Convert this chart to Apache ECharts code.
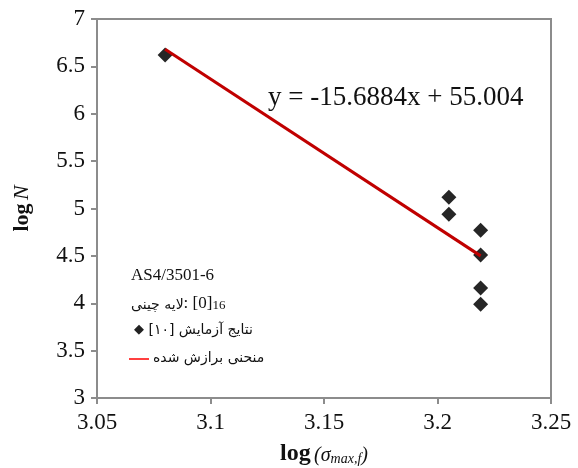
<!DOCTYPE html>
<html>
<head>
<meta charset="utf-8">
<script src="https://cdn.jsdelivr.net/npm/echarts@6/dist/echarts.min.js"></script>
<style>
  html, body { margin: 0; padding: 0; background: #fff; }
  #chart { width: 578px; height: 468px; }
</style>
</head>
<body>
<div id="chart"></div>
<script>
// test results (log of max stress vs log of cycles)
const logStress = [3.08, 3.205, 3.205, 3.219, 3.219, 3.219, 3.219];
const logLife = [6.62, 5.12, 4.94, 4.77, 4.51, 4.16, 3.99];
// fitted line ends
const fitX = [3.08, 3.219];
const fitY = [6.68, 4.50];
const xTicks = [3.05, 3.25, 0.05]; // min, max, step
const yTicks = [3, 7, 0.5];

const serif = "'Liberation Serif', 'DejaVu Serif', serif";
const persian = "'DejaVu Sans', sans-serif";
const axisGray = "#8c8c8c";

const chart = echarts.init(document.getElementById("chart"));

const option = {
  backgroundColor: "#fff",
  animation: false,
  grid: {
    left: 97, right: 27, top: 19, bottom: 70,
    outerBoundsMode: "none",
    show: true, borderColor: axisGray, borderWidth: 2
  },
  xAxis: {
    type: "value",
    min: xTicks[0], max: xTicks[1], interval: xTicks[2],
    axisLine: { lineStyle: { color: axisGray, width: 2 } },
    axisTick: { show: true, length: 6, lineStyle: { color: axisGray, width: 2 } },
    splitLine: { show: false },
    axisLabel: { color: "#111", fontFamily: serif, fontSize: 23, margin: 13 },
    name: "{b|log} {i|(σ}{s|max,f}{i|)}",
    nameLocation: "middle",
    nameGap: 42,
    nameTextStyle: {
      rich: {
        b: { fontFamily: serif, fontSize: 24, fontWeight: "bold", color: "#111", lineHeight: 26, verticalAlign: "bottom" },
        i: { fontFamily: serif, fontSize: 20, fontStyle: "italic", color: "#111", lineHeight: 26, verticalAlign: "bottom" },
        s: { fontFamily: serif, fontSize: 14, fontStyle: "italic", color: "#111", lineHeight: 14, padding: [8, 0, 0, 0], verticalAlign: "bottom" }
      }
    }
  },
  yAxis: {
    type: "value",
    min: yTicks[0], max: yTicks[1], interval: yTicks[2],
    axisLine: { show: true, lineStyle: { color: axisGray, width: 2 } },
    axisTick: { show: true, length: 6, lineStyle: { color: axisGray, width: 2 } },
    splitLine: { show: false },
    axisLabel: { color: "#111", fontFamily: serif, fontSize: 23, margin: 12 },
    name: "{b|log} {i|N}",
    nameLocation: "middle",
    nameRotate: 90,
    nameGap: 64,
    nameTextStyle: {
      rich: {
        b: { fontFamily: serif, fontSize: 22, fontWeight: "bold", color: "#111" },
        i: { fontFamily: serif, fontSize: 22, fontStyle: "italic", color: "#111" }
      }
    }
  },
  series: [
    {
      name: "test",
      type: "scatter",
      symbol: "diamond",
      symbolSize: 15,
      itemStyle: { color: "#262626", opacity: 1 },
      data: logStress.map((x, i) => [x, logLife[i]])
    },
    {
      name: "fit",
      type: "line",
      symbol: "none",
      lineStyle: { color: "#c00000", width: 3 },
      data: fitX.map((x, i) => [x, fitY[i]]),
      z: 3
    }
  ],
  graphic: [
    {
      type: "text", left: 268, top: 84,
      style: { text: "y = -15.6884x + 55.004", font: "27px " + serif, fill: "#111" }
    },
    {
      type: "text", left: 131, top: 267,
      style: { text: "AS4/3501-6", font: "17px " + serif, fill: "#111" }
    },
    {
      type: "text", left: 131, top: 292,
      style: {
        text: "{a|لایه چینی}{b|: [0]}{s|16}",
        rich: {
          a: { fontFamily: persian, fontSize: 14, fill: "#111", lineHeight: 22, verticalAlign: "bottom" },
          b: { fontFamily: serif, fontSize: 17, fill: "#111", lineHeight: 22, verticalAlign: "bottom" },
          s: { fontFamily: serif, fontSize: 13, fill: "#111", lineHeight: 13, padding: [7, 0, 0, 0], verticalAlign: "bottom" }
        }
      }
    },
    {
      type: "text", left: 134, top: 323,
      style: {
        text: "{d|◆}{b| [۱۰] }{a|نتایج آزمایش}",
        rich: {
          d: { fontFamily: persian, fontSize: 13, fill: "#222", lineHeight: 22 },
          b: { fontFamily: persian, fontSize: 14, fill: "#111", lineHeight: 22 },
          a: { fontFamily: persian, fontSize: 14, fill: "#111", lineHeight: 22 }
        }
      }
    },
    {
      type: "line",
      shape: { x1: 129, y1: 359, x2: 149, y2: 359 },
      style: { stroke: "#ff0000", lineWidth: 1.5 }
    },
    {
      type: "text", left: 153, top: 351,
      style: { text: "منحنی برازش شده", font: "14px " + persian, fill: "#111" }
    }
  ]
};

chart.setOption(option);
window.addEventListener("resize", () => chart.resize());
</script>
</body>
</html>
